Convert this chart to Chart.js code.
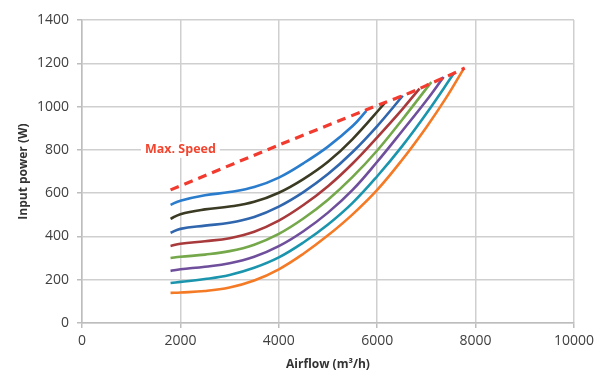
<!DOCTYPE html>
<html>
<head>
<meta charset="utf-8">
<script src="https://cdn.jsdelivr.net/npm/chart.js@4/dist/chart.umd.min.js"></script>
<style>
html,body{margin:0;padding:0;background:#fff;}
#wrap{width:606px;height:376px;position:relative;}
</style>
</head>
<body>
<div id="wrap"><canvas id="c" width="606" height="376"></canvas></div>
<script>
// ---- data ----
const maxSpeedAirflow = [1800, 4000, 5780, 6170, 6520, 6860, 7100, 7350, 7570, 7780];
const maxSpeedPower   = [615, 822, 985, 1020, 1050, 1083, 1108, 1133, 1155, 1178];

const curve1Airflow = [1800, 2000, 2500, 3000, 3500, 4000, 4500, 5000, 5500, 5780];
const curve1Power   = [546, 565, 590, 605, 628, 672, 738, 815, 910, 980];

const curve2Airflow = [1800, 2000, 2500, 3000, 3500, 4000, 4500, 5000, 5500, 6170];
const curve2Power   = [481, 503, 525, 538, 560, 602, 665, 745, 850, 1020];

const curve3Airflow = [1800, 2000, 2500, 3000, 3500, 4000, 4500, 5000, 5500, 6000, 6520];
const curve3Power   = [417, 435, 450, 463, 490, 538, 605, 688, 790, 910, 1050];

const curve4Airflow = [1800, 2000, 2500, 3000, 3500, 4000, 4500, 5000, 5500, 6000, 6500, 6860];
const curve4Power   = [356, 366, 378, 392, 422, 473, 545, 632, 737, 858, 985, 1083];

const curve5Airflow = [1800, 2000, 2500, 3000, 3500, 4000, 4500, 5000, 5500, 6000, 6500, 7100];
const curve5Power   = [300, 306, 316, 332, 362, 412, 483, 570, 675, 797, 937, 1113];

const curve6Airflow = [1800, 2000, 2500, 3000, 3500, 4000, 4500, 5000, 5500, 6000, 6500, 7000, 7350];
const curve6Power   = [241, 248, 260, 276, 306, 355, 424, 510, 615, 745, 885, 1028, 1137];

const curve7Airflow = [1800, 2000, 2500, 3000, 3500, 4000, 4500, 5000, 5500, 6000, 6500, 7000, 7570];
const curve7Power   = [185, 190, 203, 222, 255, 303, 372, 455, 555, 678, 815, 968, 1157];

const curve8Airflow = [1800, 2000, 2500, 3000, 3500, 4000, 4500, 5000, 5500, 6000, 6500, 7000, 7400, 7750];
const curve8Power   = [139, 141, 148, 164, 196, 248, 320, 405, 502, 615, 752, 905, 1040, 1172];

const maxSpeedLabel = 'Max. Speed';
const xAxisTitle = 'Airflow (m³/h)';
const yAxisTitle = 'Input power (W)';

// ---- build ----
function pts(xs, ys){ return xs.map((x,i)=>({x:x, y:ys[i]})); }

const curves = [
  [curve1Airflow, curve1Power, '#2a7ccc'],
  [curve2Airflow, curve2Power, '#3b3b24'],
  [curve3Airflow, curve3Power, '#2f66ad'],
  [curve4Airflow, curve4Power, '#a83a3c'],
  [curve5Airflow, curve5Power, '#74a84a'],
  [curve6Airflow, curve6Power, '#6f4f9c'],
  [curve7Airflow, curve7Power, '#1a95ad'],
  [curve8Airflow, curve8Power, '#f47a25']
];

const datasets = [{
  label: maxSpeedLabel,
  data: pts(maxSpeedAirflow, maxSpeedPower),
  borderColor: '#f23b2e',
  borderWidth: 3.2,
  borderDash: [9, 6],
  pointRadius: 0,
  tension: 0.3,
  fill: false
}];
curves.forEach((c, i) => {
  datasets.push({
    label: 'Speed ' + (i + 1),
    data: pts(c[0], c[1]),
    borderColor: c[2],
    borderWidth: 2.6,
    pointRadius: 0,
    tension: 0.4,
    fill: false
  });
});

const labelPlugin = {
  id: 'maxLabel',
  afterDatasetsDraw(chart) {
    const ctx = chart.ctx;
    const xs = chart.scales.x, ys = chart.scales.y;
    const px = xs.getPixelForValue(2000), py = ys.getPixelForValue(800);
    ctx.save();
    ctx.font = 'bold 12.5px "Open Sans"';
    const w = ctx.measureText(maxSpeedLabel).width;
    ctx.fillStyle = '#fff';
    ctx.fillRect(px - w/2 - 4, py - 8, w + 8, 16);
    ctx.fillStyle = '#f2452f';
    ctx.textAlign = 'center';
    ctx.textBaseline = 'middle';
    ctx.fillText(maxSpeedLabel, px, py);
    ctx.restore();
  }
};

new Chart(document.getElementById('c'), {
  type: 'line',
  data: { datasets },
  options: {
    responsive: false,
    animation: false,
    events: [],
    layout: { padding: { left: 0, right: 32, top: 20, bottom: 0 } },
    plugins: { legend: { display: false }, tooltip: { enabled: false } },
    scales: {
      x: {
        type: 'linear',
        min: 0, max: 10000,
        ticks: { stepSize: 2000, color: '#404040', font: { family: 'Open Sans', size: 14 }, padding: 5,
                 callback: v => String(v) },
        grid: { color: '#cfcfcf', lineWidth: 1.5, tickLength: 5, tickColor: '#bdbdbd' },
        border: { color: '#bdbdbd', width: 1.5 },
        title: { display: true, text: xAxisTitle, color: '#333', font: { family: 'Open Sans', size: 12, weight: 'bold' }, padding: { top: 7 } },
        afterFit(s) { s.height = 53; }
      },
      y: {
        min: 0, max: 1400,
        ticks: { stepSize: 200, color: '#404040', font: { family: 'Open Sans', size: 14 }, padding: 8,
                 callback: v => String(v) },
        grid: { color: '#cfcfcf', lineWidth: 1.5, tickLength: 5, tickColor: '#bdbdbd' },
        border: { color: '#bdbdbd', width: 1.5 },
        title: { display: true, text: yAxisTitle, color: '#333', font: { family: 'Open Sans', size: 12, weight: 'bold' }, padding: { top: 16, bottom: 0 } },
        afterFit(s) { s.width = 82; }
      }
    }
  },
  plugins: [labelPlugin]
});
</script>
</body>
</html>
